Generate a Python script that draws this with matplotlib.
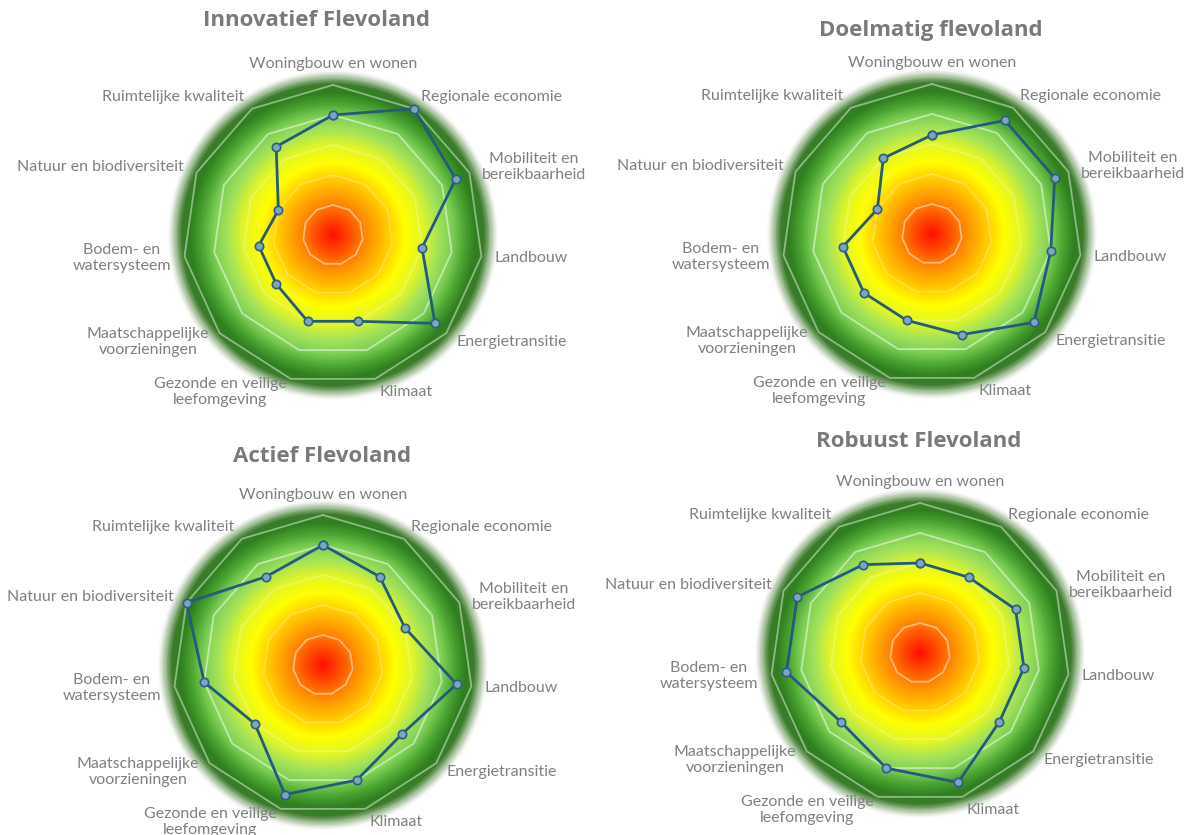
import numpy as np
import matplotlib
matplotlib.use("Agg")
import matplotlib.pyplot as plt
from matplotlib.colors import LinearSegmentedColormap

# axis names, clockwise from the top
categories = ["Woningbouw en wonen", "Regionale economie", "Mobiliteit en\nbereikbaarheid",
              "Landbouw", "Energietransitie", "Klimaat", "Gezonde en veilige\nleefomgeving",
              "Maatschappelijke\nvoorzieningen", "Bodem- en\nwatersysteem",
              "Natuur en biodiversiteit", "Ruimtelijke kwaliteit"]

titles = ["Innovatief Flevoland", "Doelmatig flevoland", "Actief Flevoland", "Robuust Flevoland"]

innovatief = [4.0, 5.0, 4.5, 3.0, 4.5, 3.0, 3.0, 2.5, 2.5, 2.0, 3.5]
doelmatig = [3.3, 4.5, 4.5, 4.0, 4.5, 3.5, 3.0, 3.0, 3.0, 2.0, 3.0]
actief = [4.0, 3.5, 3.0, 4.5, 3.5, 4.0, 4.5, 3.0, 4.0, 5.0, 3.5]
robuust = [3.0, 3.0, 3.5, 3.5, 3.5, 4.5, 4.0, 3.5, 4.5, 4.5, 3.5]

series = [innovatief, doelmatig, actief, robuust]
levels = [1, 2, 3, 4, 5]
ring_alpha = [0.5, 0.25, 0.25, 0.5, 0.45]

RMAX = 5.5

# red core -> yellow -> green, fading out to white past the last ring
grad = LinearSegmentedColormap.from_list("flevo", [
    (0.00, "#ff1000"),
    (0.10, "#ff4a00"),
    (0.20, "#ff8a00"),
    (0.32, "#ffc400"),
    (0.44, "#ffff00"),
    (0.55, "#e2f52a"),
    (0.64, "#a6e35a"),
    (0.73, "#7ccf55"),
    (0.80, "#4da632"),
    (0.87, "#2f7f1f"),
    (0.92, "#3d7d2c"),
    (0.96, "#a9c3a0"),
    (1.00, "#ffffff"),
])

fig = plt.figure(figsize=(11.93, 8.35), dpi=100)

# axes boxes (left, bottom, width, height) in figure fractions
boxes = [
    (0.1408, 0.5210, 0.2766, 0.3952),
    (0.6429, 0.5222, 0.2766, 0.3952),
    (0.1324, 0.0060, 0.2766, 0.3952),
    (0.6329, 0.0204, 0.2766, 0.3952),
]
title_pos = [(0.265, 0.975), (0.780, 0.963), (0.270, 0.453), (0.770, 0.471)]

n = len(categories)
theta = np.arange(n) * 2 * np.pi / n
theta_c = np.append(theta, theta[0])

T, R = np.meshgrid(np.linspace(0, 2 * np.pi, 361), np.linspace(0, RMAX, 220))

for box, vals, title, tpos in zip(boxes, series, titles, title_pos):
    ax = fig.add_axes(box, projection="polar")
    ax.set_theta_offset(np.pi / 2)
    ax.set_theta_direction(-1)
    ax.set_ylim(0, RMAX)
    ax.patch.set_alpha(0)
    ax.spines["polar"].set_visible(False)
    ax.grid(False)
    ax.set_xticks([])
    ax.set_yticks([])

    ax.pcolormesh(T, R, R, cmap=grad, shading="gouraud", vmin=0, vmax=RMAX, zorder=0)

    for lv, a in zip(levels, ring_alpha):
        ax.plot(theta_c, [lv] * (n + 1), color="white", lw=1.3, alpha=a, zorder=1)

    v = np.append(vals, vals[0])
    ax.plot(theta_c, v, color="#245b7c", lw=2, zorder=3,
            marker="o", ms=6, mfc="#7fa4c0", mec="#2b5f82", mew=1.2)

    for t, lab in zip(theta, categories):
        sx, cy = np.sin(t), np.cos(t)
        ha = "left" if sx > 0.1 else ("right" if sx < -0.1 else "center")
        va = "bottom" if cy > 0.9 else "center"
        ax.text(t, 5.45, lab, ha=ha, va=va, multialignment="center",
                fontsize=11.5, color="#808080", family="Lato")

    fig.text(tpos[0], tpos[1], title, ha="center", va="center", fontsize=16,
             fontweight="bold", color="#7a7a7a", family="Open Sans")

fig.savefig("out.png", dpi=100)
